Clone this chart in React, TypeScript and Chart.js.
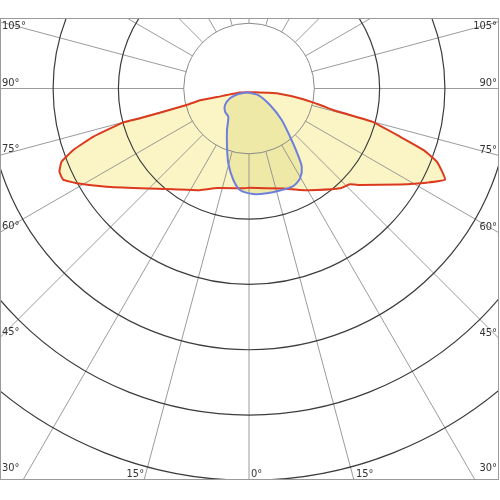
import React, { useEffect, useRef } from "react";
import { Chart, registerables } from "chart.js";

Chart.register(...registerables);

// Polar photometric data: [gamma angle in degrees from nadir (negative = left), intensity in cd]
// Listed in drawing order around each outline.
const RED_ANGLES = [0, 19, 26.7, 33.7, 42.4, 46.5, 49, 57.6, 62.1, 65.1, 68.7, 70.6, 72.3, 74.9, 75.7, 77, 79.1, 80.2, 77.2, 57.7, -66, -75.1, -76.5, -75.2, -74.7, -74.9, -72.8, -70.7, -68.7, -66.3, -63.9, -61.2, -55.4, -47.5, -37, -25.8, -17.8, -3.3];
const RED_VALUES = [152, 162, 174, 187, 207, 213, 225, 274, 308, 331, 309, 283, 243, 195, 133, 112, 79, 43, 29.8, 10.9, 15, 51, 77, 99, 173, 199, 250, 285, 308, 317, 317, 301, 265, 226, 193, 173, 160, 153];

const BLUE_ANGLES = [-31, 55, 51.8, 46.1, 40.4, 37, 34, 29.6, 24.4, 16.9, 9.6, 2.3, -5.1, -9.7, -15.5, -20.7, -27.9, -36.3, -46, -55.5, -62.7, -62.8];
const BLUE_VALUES = [6.7, 17.3, 40.9, 69.5, 96.9, 121.3, 144.4, 158.2, 164, 163.2, 162.8, 161.7, 156, 142.1, 118.8, 95.3, 72, 53.6, 51.1, 44.6, 32.8, 18.4];

// Grid definition
const RING_STEP = 100; // cd per ring
const RING_COUNT = 6;
const SPOKE_STEP = 15; // degrees
const SIDE_LABELS = [105, 90, 75, 60, 45, 30];
const BOTTOM_LABELS = [-15, 0, 15];

// Visible window (cd units)
const X_MIN = -381.3;
const X_MAX = 382.8;
const Y_MIN = -599.5;
const Y_MAX = 108;

function toXY(angles: number[], values: number[]) {
  const pts = angles.map((a, i) => {
    const rad = (a * Math.PI) / 180;
    return { x: values[i] * Math.sin(rad), y: -values[i] * Math.cos(rad) };
  });
  pts.push({ ...pts[0] });
  return pts;
}

const polarGrid = {
  id: "polarGrid",
  beforeDatasetsDraw(chart: any) {
    const { ctx, chartArea, scales } = chart;
    const xs = scales.x;
    const ys = scales.y;
    const cx = xs.getPixelForValue(0);
    const cy = ys.getPixelForValue(0);
    const kx = (xs.getPixelForValue(100) - cx) / 100;
    const ky = (cy - ys.getPixelForValue(100)) / 100;
    const { left, right, top, bottom } = chartArea;

    ctx.save();
    ctx.beginPath();
    ctx.rect(left, top, right - left, bottom - top);
    ctx.clip();

    // spokes
    ctx.strokeStyle = "#8e8e8e";
    ctx.lineWidth = 0.9;
    for (let a = -180; a < 180; a += SPOKE_STEP) {
      const rad = (a * Math.PI) / 180;
      const r0 = RING_STEP;
      const r1 = RING_STEP * 12;
      ctx.beginPath();
      ctx.moveTo(cx + r0 * Math.sin(rad) * kx, cy + r0 * Math.cos(rad) * ky);
      ctx.lineTo(cx + r1 * Math.sin(rad) * kx, cy + r1 * Math.cos(rad) * ky);
      ctx.stroke();
    }

    // rings
    for (let k = 1; k <= RING_COUNT; k++) {
      ctx.beginPath();
      ctx.strokeStyle = k === 1 ? "#8a8a8a" : "#3c3c3c";
      ctx.lineWidth = k === 1 ? 1 : 1.2;
      ctx.ellipse(cx, cy, k * RING_STEP * kx, k * RING_STEP * ky, 0, 0, Math.PI * 2);
      ctx.stroke();
    }
    ctx.restore();

    // frame
    ctx.save();
    ctx.strokeStyle = "#9a9a9a";
    ctx.lineWidth = 1;
    ctx.strokeRect(left + 0.5, top + 0.5, right - left - 1, bottom - top - 1);

    // labels
    ctx.fillStyle = "#333";
    ctx.font = '11px "DejaVu Sans Condensed", "Liberation Sans Narrow", Roboto, sans-serif';
    ctx.textBaseline = "alphabetic";
    SIDE_LABELS.forEach((a) => {
      const rad = (a * Math.PI) / 180;
      const cot = Math.cos(rad) / Math.sin(rad);
      // left
      let yl = cy + (cx - left) * cot - 3;
      yl = Math.max(top + 11, Math.min(bottom - 9, yl));
      ctx.textAlign = "left";
      ctx.fillText(a + "°", left + 2, yl);
      // right
      let yr = cy + (right - cx) * cot - 3;
      yr = Math.max(top + 11, Math.min(bottom - 9, yr));
      ctx.textAlign = "right";
      ctx.fillText(a + "°", right - 2, yr);
    });
    BOTTOM_LABELS.forEach((a) => {
      const rad = (a * Math.PI) / 180;
      const x = cx + (bottom - cy) * Math.tan(rad);
      ctx.textAlign = a < 0 ? "right" : "left";
      ctx.fillText(Math.abs(a) + "°", a < 0 ? x : x + 2, bottom - 3);
    });
    ctx.restore();
  },
};

export default function App() {
  const ref = useRef<HTMLCanvasElement>(null);
  useEffect(() => {
    if (!ref.current) return;
    const chart = new Chart(ref.current, {
      type: "line",
      data: {
        datasets: [
          {
            label: "C90-C270",
            data: toXY(BLUE_ANGLES, BLUE_VALUES),
            borderColor: "#6f7fdc",
            backgroundColor: "#eee9a6",
            borderWidth: 2,
            pointRadius: 0,
            fill: "shape",
            tension: 0.25,
          },
          {
            label: "C0-C180",
            data: toXY(RED_ANGLES, RED_VALUES),
            borderColor: "#dc3a1e",
            backgroundColor: "#fbf4c4",
            borderWidth: 2,
            pointRadius: 0,
            fill: "shape",
            tension: 0.12,
          },
        ],
      },
      options: {
        animation: false,
        responsive: true,
        maintainAspectRatio: false,
        layout: { padding: { top: 18, bottom: 20, left: 0, right: 1 } },
        scales: {
          x: { type: "linear", min: X_MIN, max: X_MAX, display: false },
          y: { type: "linear", min: Y_MIN, max: Y_MAX, display: false },
        },
        plugins: {
          legend: { display: false },
          tooltip: { enabled: false },
          filler: { drawTime: "beforeDatasetsDraw" },
        },
      } as any,
      plugins: [polarGrid],
    });
    return () => chart.destroy();
  }, []);

  return (
    <div style={{ position: "fixed", left: 0, top: 0, width: 500, height: 500, background: "#fff" }}>
      <canvas ref={ref} />
    </div>
  );
}
